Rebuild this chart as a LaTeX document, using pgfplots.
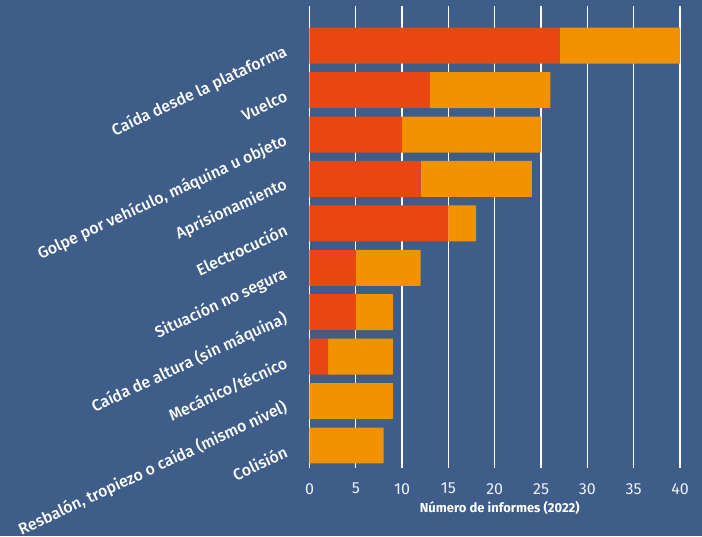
\documentclass[border=0pt]{standalone}
\usepackage{fontspec}
\setmainfont{Fira Sans}
\newfontfamily\medfont{Fira Sans Medium}
\usepackage{pgfplots}
\pgfplotsset{compat=1.18}
\usetikzlibrary{backgrounds,calc}
\definecolor{bgblue}{RGB}{62,93,136}
\definecolor{redbar}{RGB}{232,71,18}
\definecolor{orangebar}{RGB}{243,146,0}
\begin{document}
\begin{tikzpicture}
\begin{axis}[
    name=ax,
    scale only axis,
    width=370.5pt, height=461.7pt,
    xmin=0, xmax=40,
    ymin=-0.5, ymax=9.894,
    xbar stacked,
    bar width=0.81,
    xtick={0,5,...,40},
    ytick={0,...,9},
    yticklabels={Colisión, {Resbalón, tropiezo o caída (mismo nivel)}, Mecánico/técnico,
        Caída de altura (sin máquina), Situación no segura, Electrocución,
        Aprisionamiento, {Golpe por vehículo, máquina u objeto}, Vuelco,
        Caída desde la plataforma},
    xmajorgrids,
    grid style={white, line width=1.3pt},
    axis line style={draw=none},
    major tick length=0pt,
    /pgf/number format/assume math mode=true,
    x tick label style={font=\fontsize{16}{16}\selectfont, text=white!92!bgblue, yshift=-12pt},
    y tick label style={font=\medfont\fontsize{16}{16}\selectfont, text=white, rotate=25, anchor=east, xshift=-20pt, yshift=5pt},
    xlabel={Número de informes (2022)},
    xlabel style={font=\bfseries\fontsize{13}{13}\selectfont, text=white, at={(axis description cs:0.5,0)}, anchor=center, yshift=-40pt, xshift=5pt},
]
\addplot[fill=redbar, draw=none] coordinates {
    (27,9) (13,8) (10,7) (12,6) (15,5) (5,4) (5,3) (2,2) (0,1) (0,0)};
\addplot[fill=orangebar, draw=none] coordinates {
    (13,9) (13,8) (15,7) (12,6) (3,5) (7,4) (4,3) (7,2) (9,1) (8,0)};
\end{axis}
\begin{scope}[on background layer]
\fill[bgblue] ($(ax.south west)+(-309.5pt,-68.3pt)$) rectangle ($(ax.north east)+(22pt,6pt)$);
\end{scope}
\pgfresetboundingbox
\path[use as bounding box] ($(ax.south west)+(-309.5pt,-68.3pt)$) rectangle ($(ax.north east)+(22pt,6pt)$);
\end{tikzpicture}
\end{document}
